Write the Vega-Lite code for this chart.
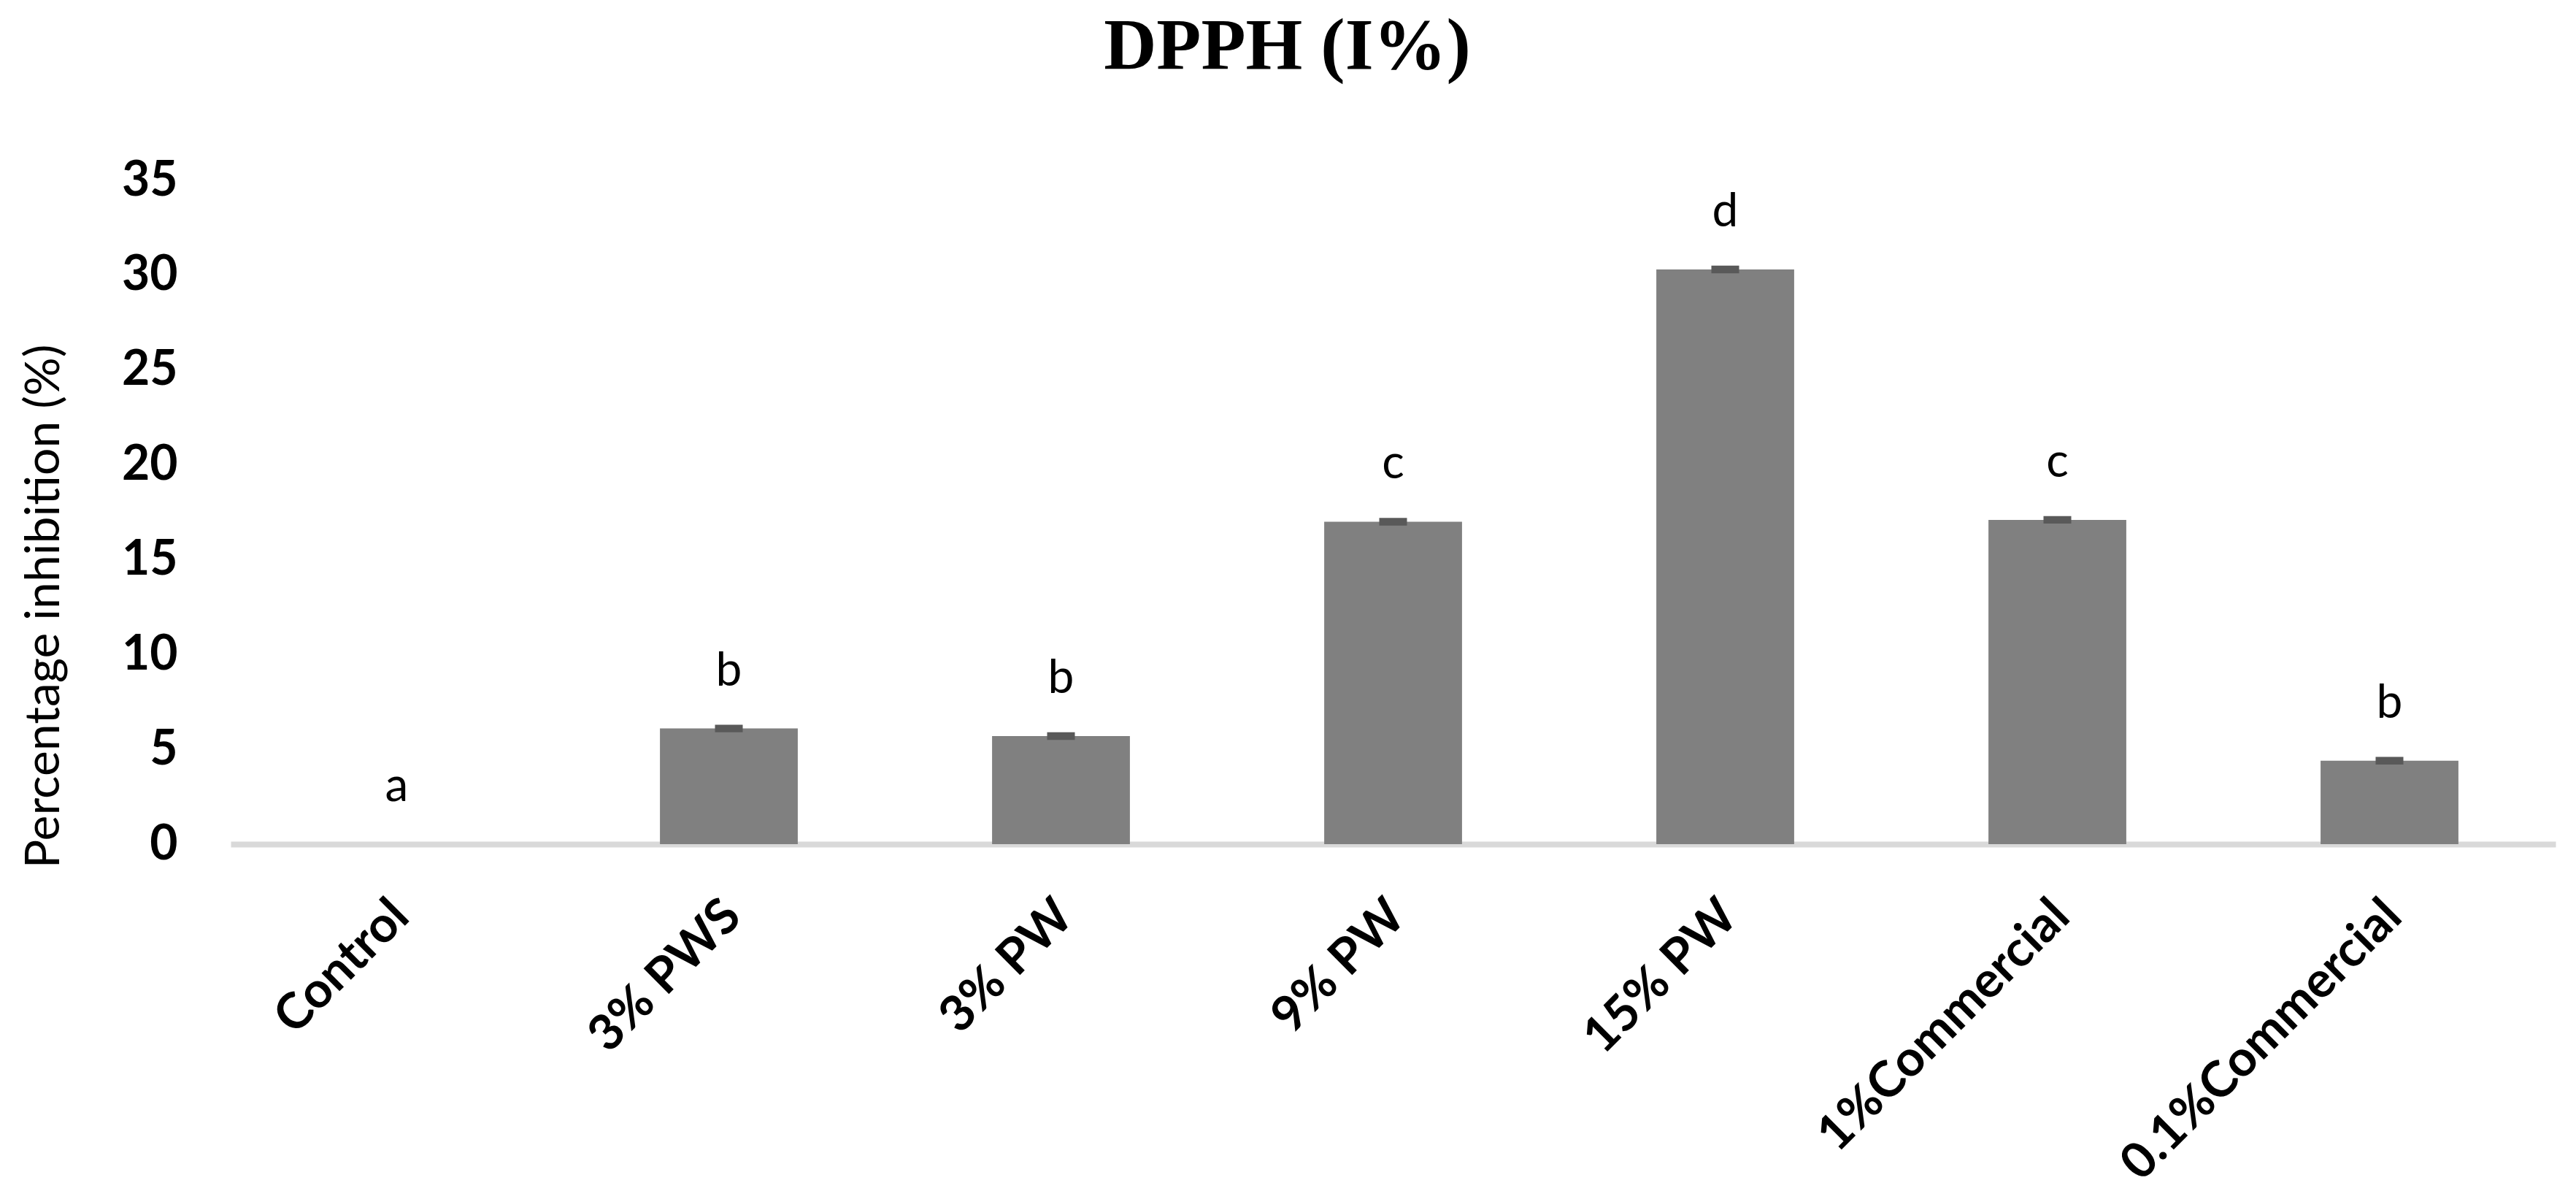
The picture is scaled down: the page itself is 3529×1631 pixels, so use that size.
{
  "$schema": "https://vega.github.io/schema/vega-lite/v6.json",
  "autosize": "none",
  "padding": {"left": 316, "top": 247, "right": 28, "bottom": 475},
  "width": 3185,
  "height": 909,
  "background": "white",
  "title": {
    "text": "DPPH (I%)",
    "font": "Liberation Serif",
    "fontSize": 100,
    "fontWeight": "bold",
    "color": "black",
    "anchor": "middle",
    "frame": "group",
    "baseline": "alphabetic",
    "offset": 20,
    "dx": -145
  },
  "data": {
    "values": [
      {"treatment": "Control", "value": 0, "lo": null, "hi": null, "group": "a"},
      {"treatment": "3% PWS", "value": 6.1, "lo": 5.9, "hi": 6.3, "group": "b"},
      {"treatment": "3% PW", "value": 5.7, "lo": 5.5, "hi": 5.9, "group": "b"},
      {"treatment": "9% PW", "value": 17.0, "lo": 16.8, "hi": 17.2, "group": "c"},
      {"treatment": "15% PW", "value": 30.3, "lo": 30.1, "hi": 30.5, "group": "d"},
      {"treatment": "1%Commercial", "value": 17.1, "lo": 16.9, "hi": 17.3, "group": "c"},
      {"treatment": "0.1%Commercial", "value": 4.4, "lo": 4.2, "hi": 4.6, "group": "b"}
    ]
  },
  "encoding": {
    "x": {
      "field": "treatment",
      "type": "nominal",
      "sort": null,
      "title": null,
      "scale": {"paddingInner": 0.585, "paddingOuter": 0.2925},
      "axis": {
        "labelAngle": -45,
        "labelFont": "Lato",
        "labelFontSize": 68,
        "labelFontWeight": "bold",
        "labelColor": "black",
        "labelPadding": 64,
        "labelOffset": -18,
        "labelLimit": 0,
        "ticks": false,
        "domainColor": "#d9d9d9",
        "domainWidth": 8
      }
    }
  },
  "layer": [
    {
      "mark": {"type": "bar", "color": "#808080"},
      "encoding": {
        "y": {
          "field": "value",
          "type": "quantitative",
          "title": "Percentage inhibition (%)",
          "scale": {"domain": [0, 35], "nice": false},
          "axis": {
            "values": [0, 5, 10, 15, 20, 25, 30, 35],
            "grid": false,
            "domain": false,
            "ticks": false,
            "labelFont": "Lato",
            "labelFontSize": 66,
            "labelFontWeight": "bold",
            "labelColor": "black",
            "labelPadding": 73,
            "titleFont": "Lato",
            "titleFontSize": 66,
            "titleFontWeight": "normal",
            "titleColor": "black",
            "titleX": -256,
            "titleY": 583,
            "titleBaseline": "middle",
            "titleAlign": "center",
            "titleAngle": -90
          }
        }
      }
    },
    {
      "mark": {"type": "bar", "color": "#595959", "size": 38},
      "encoding": {
        "y": {"field": "lo", "type": "quantitative", "title": "Percentage inhibition (%)"},
        "y2": {"field": "hi"}
      }
    },
    {
      "mark": {
        "type": "text",
        "font": "Lato",
        "fontSize": 64,
        "color": "black",
        "baseline": "middle",
        "dy": -78
      },
      "encoding": {
        "y": {"field": "value", "type": "quantitative", "title": "Percentage inhibition (%)"},
        "text": {"field": "group"}
      }
    }
  ],
  "config": {
    "view": {"stroke": null}
  }
}
